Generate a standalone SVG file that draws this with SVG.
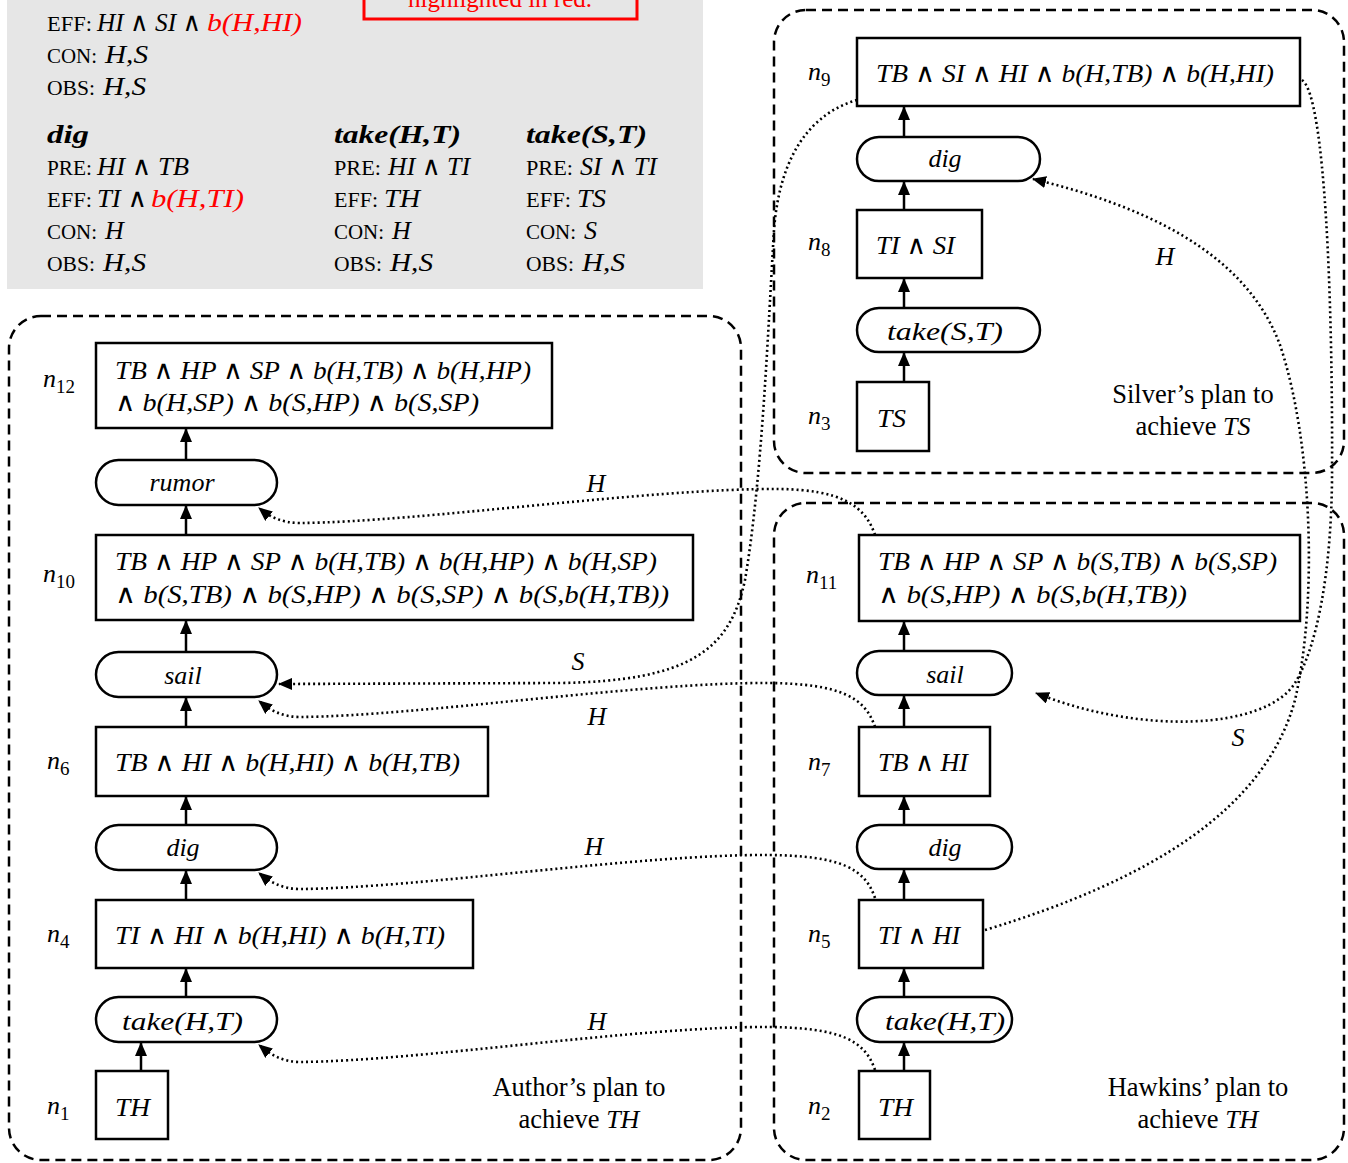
<svg xmlns="http://www.w3.org/2000/svg" width="1348" height="1163" viewBox="0 0 1348 1163">
<defs>
<style>
.m{font-family:'Liberation Serif','DejaVu Serif',serif;font-style:italic;font-size:26px;fill:#000}
.mb{font-family:'Liberation Serif','DejaVu Serif',serif;font-style:italic;font-weight:bold;font-size:26px;fill:#000}
.sub{font-family:'Liberation Serif','DejaVu Serif',serif;font-style:normal;font-size:19px}
.sc{font-family:'Liberation Serif',serif;font-size:20px;fill:#000}
.cap{font-family:'Liberation Serif',serif;font-size:26.5px;fill:#000}
.red{fill:#ff0000}
.box{fill:#fff;stroke:#000;stroke-width:2.5}
.grp{fill:none;stroke:#000;stroke-width:2.5;stroke-dasharray:10 6}
.dot{fill:none;stroke:#000;stroke-width:2.6;stroke-dasharray:2 3}
.arr{fill:none;stroke:#000;stroke-width:2.5}
</style>
<marker id="ah" viewBox="0 0 14 12" refX="13" refY="6" markerWidth="14" markerHeight="12" markerUnits="userSpaceOnUse" orient="auto">
<path d="M0,0 L14,6 L0,12 Z" fill="#000"/>
</marker>
</defs>
<rect width="1348" height="1163" fill="#fff"/>

<g id="legend">
<rect x="7" y="0" width="696" height="289" fill="#e6e6e6"/>
<rect x="364" y="-5" width="273" height="24" fill="none" stroke="#ff0000" stroke-width="3"/>
<text x="500" y="7" text-anchor="middle" font-family="'Liberation Serif',serif" font-size="25" fill="#ff0000">highlighted in red.</text>

<text class="sc" x="47" y="31" textLength="45" lengthAdjust="spacingAndGlyphs">EFF:</text>
<text class="m" x="97" y="31" textLength="104" lengthAdjust="spacingAndGlyphs">HI ∧ SI ∧</text>
<text class="m red" x="207" y="31" textLength="95" lengthAdjust="spacingAndGlyphs">b(H,HI)</text>
<text class="sc" x="47" y="63" textLength="50" lengthAdjust="spacingAndGlyphs">CON:</text>
<text class="m" x="105" y="63" textLength="43" lengthAdjust="spacingAndGlyphs">H,S</text>
<text class="sc" x="47" y="95" textLength="48" lengthAdjust="spacingAndGlyphs">OBS:</text>
<text class="m" x="103" y="95" textLength="43" lengthAdjust="spacingAndGlyphs">H,S</text>

<text class="mb" x="47" y="143" textLength="42" lengthAdjust="spacingAndGlyphs">dig</text>
<text class="sc" x="47" y="175" textLength="45" lengthAdjust="spacingAndGlyphs">PRE:</text>
<text class="m" x="97" y="175" textLength="92" lengthAdjust="spacingAndGlyphs">HI ∧ TB</text>
<text class="sc" x="47" y="207" textLength="45" lengthAdjust="spacingAndGlyphs">EFF:</text>
<text class="m" x="97" y="207" textLength="50" lengthAdjust="spacingAndGlyphs">TI ∧</text>
<text class="m red" x="151" y="207" textLength="93" lengthAdjust="spacingAndGlyphs">b(H,TI)</text>
<text class="sc" x="47" y="239" textLength="50" lengthAdjust="spacingAndGlyphs">CON:</text>
<text class="m" x="105" y="239">H</text>
<text class="sc" x="47" y="271" textLength="48" lengthAdjust="spacingAndGlyphs">OBS:</text>
<text class="m" x="103" y="271" textLength="43" lengthAdjust="spacingAndGlyphs">H,S</text>

<text class="mb" x="334" y="143" textLength="127" lengthAdjust="spacingAndGlyphs">take(H,T)</text>
<text class="sc" x="334" y="175" textLength="47" lengthAdjust="spacingAndGlyphs">PRE:</text>
<text class="m" x="388" y="175" textLength="82" lengthAdjust="spacingAndGlyphs">HI ∧ TI</text>
<text class="sc" x="334" y="207" textLength="44" lengthAdjust="spacingAndGlyphs">EFF:</text>
<text class="m" x="384" y="207" textLength="36" lengthAdjust="spacingAndGlyphs">TH</text>
<text class="sc" x="334" y="239" textLength="50" lengthAdjust="spacingAndGlyphs">CON:</text>
<text class="m" x="392" y="239">H</text>
<text class="sc" x="334" y="271" textLength="48" lengthAdjust="spacingAndGlyphs">OBS:</text>
<text class="m" x="390" y="271" textLength="43" lengthAdjust="spacingAndGlyphs">H,S</text>

<text class="mb" x="526" y="143" textLength="121" lengthAdjust="spacingAndGlyphs">take(S,T)</text>
<text class="sc" x="526" y="175" textLength="47" lengthAdjust="spacingAndGlyphs">PRE:</text>
<text class="m" x="580" y="175" textLength="77" lengthAdjust="spacingAndGlyphs">SI ∧ TI</text>
<text class="sc" x="526" y="207" textLength="45" lengthAdjust="spacingAndGlyphs">EFF:</text>
<text class="m" x="577" y="207" textLength="29" lengthAdjust="spacingAndGlyphs">TS</text>
<text class="sc" x="526" y="239" textLength="50" lengthAdjust="spacingAndGlyphs">CON:</text>
<text class="m" x="584" y="239">S</text>
<text class="sc" x="526" y="271" textLength="48" lengthAdjust="spacingAndGlyphs">OBS:</text>
<text class="m" x="582" y="271" textLength="43" lengthAdjust="spacingAndGlyphs">H,S</text>
</g>

<g id="plan-author">
<rect class="grp" x="9" y="316" width="732" height="844" rx="32"/>
<text class="cap" x="579" y="1096" text-anchor="middle">Author’s plan to</text>
<text class="cap" x="579" y="1128" text-anchor="middle">achieve <tspan class="m">TH</tspan></text>
</g>
<g id="plan-silver">
<rect class="grp" x="774" y="10" width="570" height="463" rx="32"/>
<text class="cap" x="1193" y="403" text-anchor="middle">Silver’s plan to</text>
<text class="cap" x="1193" y="435" text-anchor="middle">achieve <tspan class="m">TS</tspan></text>
</g>
<g id="plan-hawkins">
<rect class="grp" x="774" y="503" width="570" height="657" rx="32"/>
<text class="cap" x="1198" y="1096" text-anchor="middle">Hawkins’ plan to</text>
<text class="cap" x="1198" y="1128" text-anchor="middle">achieve <tspan class="m">TH</tspan></text>
</g>

<!-- Author's plan nodes -->
<g id="n12">
<rect class="box" x="96" y="343" width="456" height="85"/>
<text class="m" x="115" y="379" textLength="416" lengthAdjust="spacingAndGlyphs">TB ∧ HP ∧ SP ∧ b(H,TB) ∧ b(H,HP)</text>
<text class="m" x="115" y="411" textLength="364" lengthAdjust="spacingAndGlyphs">∧ b(H,SP) ∧ b(S,HP) ∧ b(S,SP)</text>
<text class="m" x="43" y="387">n<tspan class="sub" dy="6">12</tspan></text>
</g>
<g id="a-rumor">
<rect class="box" x="96" y="460" width="181" height="45" rx="22.5"/>
<text class="m" x="182" y="491" text-anchor="middle">rumor</text>
</g>
<g id="n10">
<rect class="box" x="96" y="535" width="597" height="85"/>
<text class="m" x="115" y="570" textLength="542" lengthAdjust="spacingAndGlyphs">TB ∧ HP ∧ SP ∧ b(H,TB) ∧ b(H,HP) ∧ b(H,SP)</text>
<text class="m" x="115" y="603" textLength="554" lengthAdjust="spacingAndGlyphs">∧ b(S,TB) ∧ b(S,HP) ∧ b(S,SP) ∧ b(S,b(H,TB))</text>
<text class="m" x="43" y="582">n<tspan class="sub" dy="6">10</tspan></text>
</g>
<g id="a-sail-author">
<rect class="box" x="96" y="652" width="181" height="45" rx="22.5"/>
<text class="m" x="183" y="684" text-anchor="middle">sail</text>
</g>
<g id="n6">
<rect class="box" x="96" y="727" width="392" height="69"/>
<text class="m" x="115" y="771" textLength="345" lengthAdjust="spacingAndGlyphs">TB ∧ HI ∧ b(H,HI) ∧ b(H,TB)</text>
<text class="m" x="47" y="769">n<tspan class="sub" dy="6">6</tspan></text>
</g>
<g id="a-dig-author">
<rect class="box" x="96" y="825" width="181" height="45" rx="22.5"/>
<text class="m" x="183" y="856" text-anchor="middle">dig</text>
</g>
<g id="n4">
<rect class="box" x="96" y="900" width="377" height="68"/>
<text class="m" x="115" y="944" textLength="330" lengthAdjust="spacingAndGlyphs">TI ∧ HI ∧ b(H,HI) ∧ b(H,TI)</text>
<text class="m" x="47" y="942">n<tspan class="sub" dy="6">4</tspan></text>
</g>
<g id="a-take-author">
<rect class="box" x="96" y="997" width="181" height="45" rx="22.5"/>
<text class="m" x="122" y="1030" textLength="121" lengthAdjust="spacingAndGlyphs">take(H,T)</text>
</g>
<g id="n1">
<rect class="box" x="96" y="1071" width="72" height="68"/>
<text class="m" x="115" y="1116" textLength="35" lengthAdjust="spacingAndGlyphs">TH</text>
<text class="m" x="47" y="1114">n<tspan class="sub" dy="6">1</tspan></text>
</g>

<!-- Silver's plan nodes -->
<g id="n9">
<rect class="box" x="857" y="38" width="443" height="68"/>
<text class="m" x="876" y="82" textLength="398" lengthAdjust="spacingAndGlyphs">TB ∧ SI ∧ HI ∧ b(H,TB) ∧ b(H,HI)</text>
<text class="m" x="808" y="80">n<tspan class="sub" dy="6">9</tspan></text>
</g>
<g id="a-dig-silver">
<rect class="box" x="857" y="137" width="183" height="44" rx="22"/>
<text class="m" x="945" y="167" text-anchor="middle">dig</text>
</g>
<g id="n8">
<rect class="box" x="857" y="210" width="125" height="68"/>
<text class="m" x="876" y="254" textLength="79" lengthAdjust="spacingAndGlyphs">TI ∧ SI</text>
<text class="m" x="808" y="250">n<tspan class="sub" dy="6">8</tspan></text>
</g>
<g id="a-take-silver">
<rect class="box" x="857" y="308" width="183" height="44" rx="22"/>
<text class="m" x="887" y="340" textLength="116" lengthAdjust="spacingAndGlyphs">take(S,T)</text>
</g>
<g id="n3">
<rect class="box" x="857" y="382" width="72" height="69"/>
<text class="m" x="877" y="427" textLength="29" lengthAdjust="spacingAndGlyphs">TS</text>
<text class="m" x="808" y="424">n<tspan class="sub" dy="6">3</tspan></text>
</g>

<!-- Hawkins' plan nodes -->
<g id="n11">
<rect class="box" x="859" y="535" width="441" height="86"/>
<text class="m" x="878" y="570" textLength="399" lengthAdjust="spacingAndGlyphs">TB ∧ HP ∧ SP ∧ b(S,TB) ∧ b(S,SP)</text>
<text class="m" x="878" y="603" textLength="309" lengthAdjust="spacingAndGlyphs">∧ b(S,HP) ∧ b(S,b(H,TB))</text>
<text class="m" x="806" y="583">n<tspan class="sub" dy="6">11</tspan></text>
</g>
<g id="a-sail-hawkins">
<rect class="box" x="857" y="651" width="155" height="44" rx="22"/>
<text class="m" x="945" y="683" text-anchor="middle">sail</text>
</g>
<g id="n7">
<rect class="box" x="859" y="727" width="131" height="69"/>
<text class="m" x="878" y="771" textLength="90" lengthAdjust="spacingAndGlyphs">TB ∧ HI</text>
<text class="m" x="808" y="770">n<tspan class="sub" dy="6">7</tspan></text>
</g>
<g id="a-dig-hawkins">
<rect class="box" x="857" y="825" width="155" height="44" rx="22"/>
<text class="m" x="945" y="856" text-anchor="middle">dig</text>
</g>
<g id="n5">
<rect class="box" x="859" y="900" width="124" height="68"/>
<text class="m" x="878" y="944" textLength="82" lengthAdjust="spacingAndGlyphs">TI ∧ HI</text>
<text class="m" x="808" y="942">n<tspan class="sub" dy="6">5</tspan></text>
</g>
<g id="a-take-hawkins">
<rect class="box" x="857" y="997" width="155" height="45" rx="22.5"/>
<text class="m" x="885" y="1030" textLength="120" lengthAdjust="spacingAndGlyphs">take(H,T)</text>
</g>
<g id="n2">
<rect class="box" x="859" y="1071" width="71" height="68"/>
<text class="m" x="878" y="1116" textLength="35" lengthAdjust="spacingAndGlyphs">TH</text>
<text class="m" x="808" y="1114">n<tspan class="sub" dy="6">2</tspan></text>
</g>

<g id="connectors">
<line class="arr" x1="186" y1="460" x2="186" y2="429" marker-end="url(#ah)"/>
<line class="arr" x1="186" y1="535" x2="186" y2="506" marker-end="url(#ah)"/>
<line class="arr" x1="186" y1="652" x2="186" y2="621" marker-end="url(#ah)"/>
<line class="arr" x1="186" y1="727" x2="186" y2="698" marker-end="url(#ah)"/>
<line class="arr" x1="186" y1="825" x2="186" y2="797" marker-end="url(#ah)"/>
<line class="arr" x1="186" y1="900" x2="186" y2="871" marker-end="url(#ah)"/>
<line class="arr" x1="186" y1="997" x2="186" y2="969" marker-end="url(#ah)"/>
<line class="arr" x1="141" y1="1071" x2="141" y2="1043" marker-end="url(#ah)"/>

<line class="arr" x1="904" y1="137" x2="904" y2="107" marker-end="url(#ah)"/>
<line class="arr" x1="904" y1="210" x2="904" y2="182" marker-end="url(#ah)"/>
<line class="arr" x1="904" y1="308" x2="904" y2="279" marker-end="url(#ah)"/>
<line class="arr" x1="904" y1="382" x2="904" y2="353" marker-end="url(#ah)"/>
<line class="arr" x1="904" y1="651" x2="904" y2="622" marker-end="url(#ah)"/>
<line class="arr" x1="904" y1="727" x2="904" y2="696" marker-end="url(#ah)"/>
<line class="arr" x1="904" y1="825" x2="904" y2="797" marker-end="url(#ah)"/>
<line class="arr" x1="904" y1="900" x2="904" y2="870" marker-end="url(#ah)"/>
<line class="arr" x1="904" y1="997" x2="904" y2="969" marker-end="url(#ah)"/>
<line class="arr" x1="904" y1="1071" x2="904" y2="1043" marker-end="url(#ah)"/>

<path class="dot" d="M875,535 C865,505 840,490 780,489 C650,488 420,522 300,523 C282,523 270,517 259,508" marker-end="url(#ah)"/>
<text class="m" x="596" y="492" text-anchor="middle">H</text>

<path class="dot" d="M875,727 C865,697 840,684 770,683 C640,682 420,716 300,717 C282,717 270,710 259,701" marker-end="url(#ah)"/>
<text class="m" x="597" y="725" text-anchor="middle">H</text>

<path class="dot" d="M875,898 C865,868 840,856 770,855 C640,854 420,888 300,889 C282,889 270,882 259,873" marker-end="url(#ah)"/>
<text class="m" x="594" y="855" text-anchor="middle">H</text>

<path class="dot" d="M875,1070 C865,1040 840,1028 770,1027 C640,1026 420,1061 300,1062 C282,1062 270,1054 259,1045" marker-end="url(#ah)"/>
<text class="m" x="597" y="1030" text-anchor="middle">H</text>

<path class="dot" d="M857,100 C815,112 780,150 774,230 C768,330 762,480 745,580 C730,650 690,681 560,683 L279,684" marker-end="url(#ah)"/>
<text class="m" x="578" y="670" text-anchor="middle">S</text>

<path class="dot" d="M1302,80 C1325,95 1333,300 1332,480 C1331,570 1318,645 1295,683 C1265,730 1140,735 1036,693" marker-end="url(#ah)"/>
<text class="m" x="1238" y="746" text-anchor="middle">S</text>

<path class="dot" d="M985,930 C1150,880 1265,810 1295,700 C1318,600 1312,440 1280,345 C1245,250 1140,205 1033,179" marker-end="url(#ah)"/>
<text class="m" x="1165" y="265" text-anchor="middle">H</text>
</g>
</svg>
